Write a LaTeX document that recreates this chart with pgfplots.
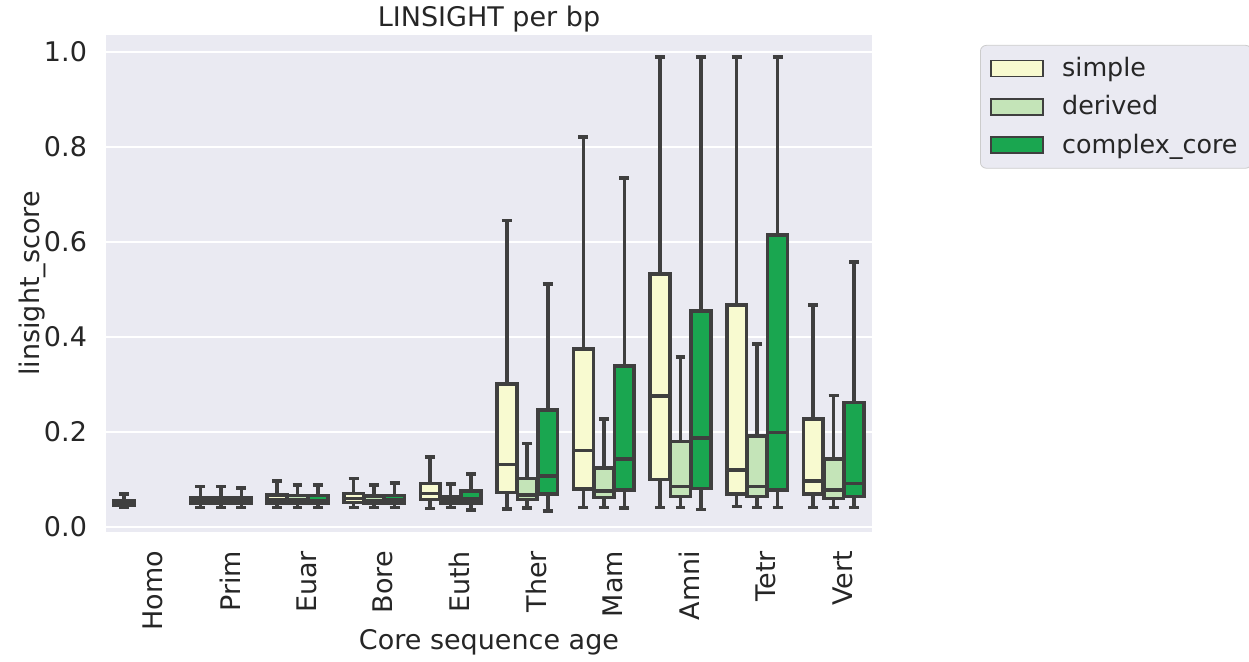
\documentclass[border=0pt]{standalone}
\usepackage{fontspec}
\setmainfont{DejaVu Sans}
\usepackage{pgfplots}
\pgfplotsset{compat=1.18}
\usepgfplotslibrary{statistics}

\definecolor{bgc}{RGB}{234,234,242}
\definecolor{edge}{RGB}{63,63,63}
\definecolor{textc}{RGB}{38,38,38}
\definecolor{legbord}{RGB}{204,204,204}
\definecolor{csimple}{RGB}{248,250,208}
\definecolor{cderived}{RGB}{196,228,184}
\definecolor{ccomplex}{RGB}{26,166,80}

% one box: position, lower whisker, q1, median, q3, upper whisker, fill colour
\newcommand{\bx}[7]{%
  \addplot[boxplot prepared={draw position=#1, lower whisker=#2,
      lower quartile=#3, median=#4, upper quartile=#5, upper whisker=#6,
      draw direction=y},
    fill=#7, draw=edge, line width=1.8pt, forget plot] coordinates {};}

\begin{document}
\begin{tikzpicture}
\useasboundingbox (-53pt,-64.5pt) rectangle (571.5pt,266pt);
\begin{axis}[
  at={(0,0)}, anchor=south west,
  scale only axis, width=383pt, height=248.5pt,
  xmin=-0.5, xmax=9.5, ymin=-0.0105, ymax=1.036,
  axis background/.style={fill=bgc},
  axis line style={draw=none},
  major tick length=0pt,
  ymajorgrids, xmajorgrids=false,
  major grid style={white, line width=1pt},
  ytick={0,0.2,0.4,0.6,0.8,1.0},
  yticklabels={0.0,0.2,0.4,0.6,0.8,1.0},
  xtick={0,...,9},
  xticklabels={Homo,Prim,Euar,Bore,Euth,Ther,Mam,Amni,Tetr,Vert},
  tick label style={font=\fontsize{13.5}{16}\selectfont, text=textc},
  yticklabel style={xshift=-6pt},
  xticklabel style={rotate=90, anchor=east, xshift=-6pt, yshift=-4.5pt},
  title={LINSIGHT per bp},
  title style={font=\fontsize{13.5}{16}\selectfont, text=textc, yshift=-8pt},
  xlabel={Core sequence age},
  ylabel={linsight\_score},
  label style={font=\fontsize{13.5}{16}\selectfont, text=textc},
  xlabel style={yshift=7.5pt},
  ylabel style={yshift=-8pt},
  boxplot/box extend=0.26,
  boxplot/whisker extend=0.13,
  legend style={at={(1.141,0.98)}, anchor=north west, fill=bgc, draw=legbord,
    rounded corners=3pt, font=\fontsize{12.7}{15}\selectfont, text=textc,
    row sep=4pt, column sep=7pt, inner xsep=5pt, inner ysep=4pt},
  legend cell align=left,
  legend image code/.code={\draw[#1, sharp corners] (0pt,-4pt) rectangle (26pt,4pt);},
]
\addlegendimage{fill=csimple, draw=edge, line width=0.9pt}
\addlegendentry{simple}
\addlegendimage{fill=cderived, draw=edge, line width=0.9pt}
\addlegendentry{derived}
\addlegendimage{fill=ccomplex, draw=edge, line width=0.9pt}
\addlegendentry{complex\_core}

% Homo (simple only)
\bx{-0.2667}{0.041}{0.046}{0.050}{0.056}{0.069}{csimple}
% Prim
\bx{0.7333}{0.041}{0.050}{0.056}{0.062}{0.085}{csimple}
\bx{1.0000}{0.041}{0.050}{0.056}{0.062}{0.085}{cderived}
\bx{1.2667}{0.041}{0.050}{0.055}{0.061}{0.082}{ccomplex}
% Euar
\bx{1.7333}{0.041}{0.051}{0.058}{0.068}{0.097}{csimple}
\bx{2.0000}{0.041}{0.050}{0.057}{0.066}{0.088}{cderived}
\bx{2.2667}{0.041}{0.050}{0.056}{0.066}{0.088}{ccomplex}
% Bore
\bx{2.7333}{0.041}{0.052}{0.060}{0.071}{0.102}{csimple}
\bx{3.0000}{0.041}{0.050}{0.056}{0.065}{0.088}{cderived}
\bx{3.2667}{0.041}{0.050}{0.058}{0.066}{0.093}{ccomplex}
% Euth
\bx{3.7333}{0.039}{0.058}{0.071}{0.092}{0.148}{csimple}
\bx{4.0000}{0.041}{0.050}{0.055}{0.063}{0.090}{cderived}
\bx{4.2667}{0.036}{0.050}{0.059}{0.076}{0.112}{ccomplex}
% Ther
\bx{4.7333}{0.038}{0.073}{0.132}{0.301}{0.645}{csimple}
\bx{5.0000}{0.040}{0.058}{0.067}{0.102}{0.176}{cderived}
\bx{5.2667}{0.034}{0.069}{0.108}{0.246}{0.512}{ccomplex}
% Mam
\bx{5.7333}{0.041}{0.080}{0.161}{0.375}{0.821}{csimple}
\bx{6.0000}{0.041}{0.062}{0.076}{0.124}{0.227}{cderived}
\bx{6.2667}{0.040}{0.078}{0.143}{0.339}{0.735}{ccomplex}
% Amni
\bx{6.7333}{0.041}{0.100}{0.276}{0.533}{0.990}{csimple}
\bx{7.0000}{0.041}{0.064}{0.085}{0.180}{0.358}{cderived}
\bx{7.2667}{0.037}{0.081}{0.187}{0.455}{0.990}{ccomplex}
% Tetr
\bx{7.7333}{0.043}{0.069}{0.120}{0.467}{0.990}{csimple}
\bx{8.0000}{0.041}{0.064}{0.085}{0.192}{0.386}{cderived}
\bx{8.2667}{0.041}{0.078}{0.199}{0.615}{0.990}{ccomplex}
% Vert
\bx{8.7333}{0.041}{0.069}{0.097}{0.227}{0.467}{csimple}
\bx{9.0000}{0.041}{0.060}{0.078}{0.143}{0.277}{cderived}
\bx{9.2667}{0.041}{0.064}{0.092}{0.262}{0.558}{ccomplex}
\end{axis}
\end{tikzpicture}
\end{document}
